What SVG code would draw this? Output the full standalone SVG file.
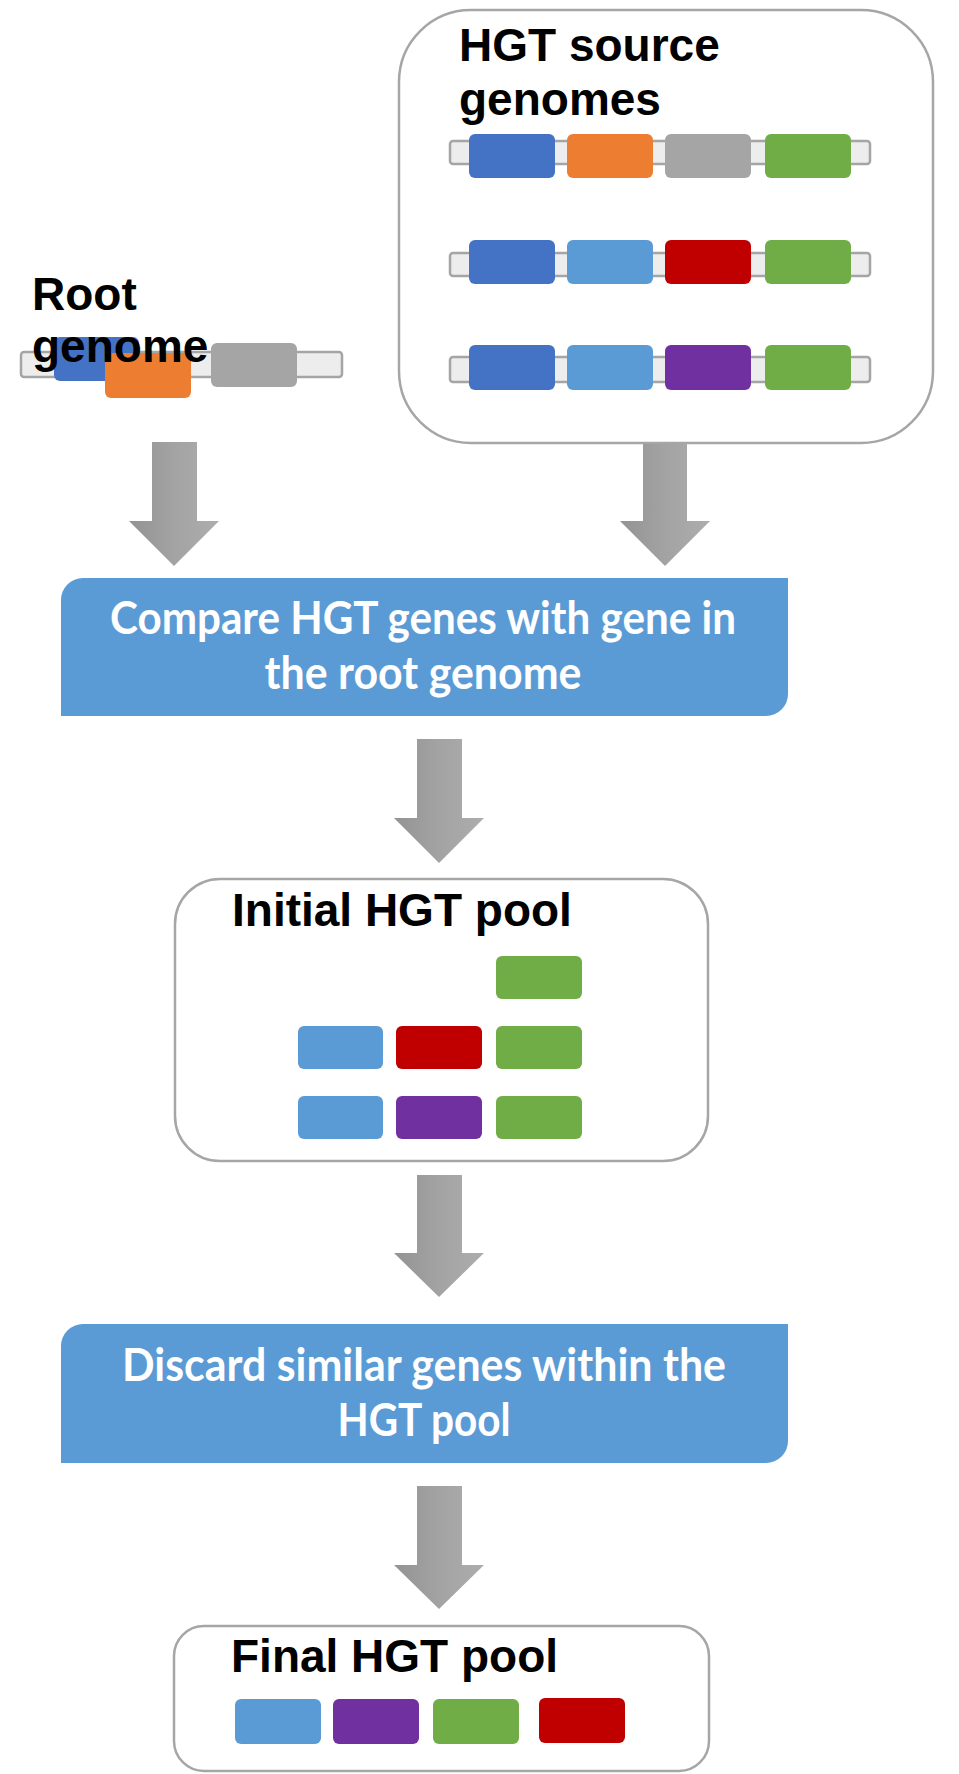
<svg xmlns="http://www.w3.org/2000/svg" width="959" height="1774" viewBox="0 0 959 1774">
<defs>
<linearGradient id="arrowGrad" x1="0" y1="0" x2="1" y2="0">
<stop offset="0" stop-color="#939393"/>
<stop offset="0.5" stop-color="#A3A3A3"/>
<stop offset="1" stop-color="#ADADAD"/>
</linearGradient>
</defs>
<style>
.frame{fill:#FFFFFF;stroke:#A6A6A6;stroke-width:2.5}
.bar{fill:#EDEDED;stroke:#A5A5A5;stroke-width:2.5}
.title{font-family:"Liberation Sans",Arial,sans-serif;font-weight:bold;font-size:46px;fill:#000000}
.step{fill:#5B9BD5}
.steptxt{font-family:Lato,"Open Sans",sans-serif;font-weight:bold;font-size:46px;fill:#FFFFFF;text-anchor:middle}
.arrow{fill:url(#arrowGrad)}
.db{fill:#4472C4}.or{fill:#ED7D31}.gy{fill:#A5A5A5}.gr{fill:#70AD47}.lb{fill:#5B9BD5}.rd{fill:#C00000}.pu{fill:#7030A0}
</style>
<rect width="959" height="1774" fill="#FFFFFF"/>

<g id="root-genome">
<rect class="bar" x="21" y="352" width="321" height="25" rx="3"/>
<rect class="db" x="54" y="337" width="85" height="44" rx="6"/>
<rect class="or" x="105" y="353" width="86" height="45" rx="6"/>
<rect class="gy" x="211" y="343" width="86" height="44" rx="6"/>
<text class="title" x="32" y="310">Root</text>
<text class="title" x="32" y="362">genome</text>
</g>

<g id="hgt-source-genomes">
<rect class="frame" x="399" y="10" width="534" height="433" rx="72"/>
<text class="title" x="459" y="61">HGT source</text>
<text class="title" x="459" y="115">genomes</text>
<rect class="bar" x="450" y="141" width="420" height="23" rx="3"/>
<rect class="db" x="469" y="134" width="86" height="44" rx="6"/>
<rect class="or" x="567" y="134" width="86" height="44" rx="6"/>
<rect class="gy" x="665" y="134" width="86" height="44" rx="6"/>
<rect class="gr" x="765" y="134" width="86" height="44" rx="6"/>
<rect class="bar" x="450" y="253" width="420" height="23" rx="3"/>
<rect class="db" x="469" y="240" width="86" height="44" rx="6"/>
<rect class="lb" x="567" y="240" width="86" height="44" rx="6"/>
<rect class="rd" x="665" y="240" width="86" height="44" rx="6"/>
<rect class="gr" x="765" y="240" width="86" height="44" rx="6"/>
<rect class="bar" x="450" y="357" width="420" height="25" rx="3"/>
<rect class="db" x="469" y="345" width="86" height="45" rx="6"/>
<rect class="lb" x="567" y="345" width="86" height="45" rx="6"/>
<rect class="pu" x="665" y="345" width="86" height="45" rx="6"/>
<rect class="gr" x="765" y="345" width="86" height="45" rx="6"/>
</g>

<g id="compare-step">
<path class="step" d="M83,578 H788 V694 A22,22 0 0 1 766,716 H61 V600 A22,22 0 0 1 83,578 Z"/>
<text class="steptxt" x="423" y="634" textLength="626" lengthAdjust="spacingAndGlyphs">Compare HGT genes with gene in</text>
<text class="steptxt" x="423" y="689" textLength="317" lengthAdjust="spacingAndGlyphs">the root genome</text>
</g>

<g id="initial-pool">
<rect class="frame" x="175" y="879" width="533" height="282" rx="45"/>
<text class="title" x="232" y="926">Initial HGT pool</text>
<rect class="gr" x="496" y="956" width="86" height="43" rx="6"/>
<rect class="lb" x="298" y="1026" width="85" height="43" rx="6"/>
<rect class="rd" x="396" y="1026" width="86" height="43" rx="6"/>
<rect class="gr" x="496" y="1026" width="86" height="43" rx="6"/>
<rect class="lb" x="298" y="1096" width="85" height="43" rx="6"/>
<rect class="pu" x="396" y="1096" width="86" height="43" rx="6"/>
<rect class="gr" x="496" y="1096" width="86" height="43" rx="6"/>
</g>

<g id="discard-step">
<path class="step" d="M83,1324 H788 V1441 A22,22 0 0 1 766,1463 H61 V1346 A22,22 0 0 1 83,1324 Z"/>
<text class="steptxt" x="424" y="1381" textLength="604" lengthAdjust="spacingAndGlyphs">Discard similar genes within the</text>
<text class="steptxt" x="424" y="1436" textLength="173" lengthAdjust="spacingAndGlyphs">HGT pool</text>
</g>

<g id="final-pool">
<rect class="frame" x="174" y="1626" width="535" height="145" rx="30"/>
<text class="title" x="231" y="1672">Final HGT pool</text>
<rect class="lb" x="235" y="1699" width="86" height="45" rx="6"/>
<rect class="pu" x="333" y="1699" width="86" height="45" rx="6"/>
<rect class="gr" x="433" y="1699" width="86" height="45" rx="6"/>
<rect class="rd" x="539" y="1698" width="86" height="45" rx="6"/>
</g>

<g id="connectors">
<path class="arrow" d="M152,442 H197 V521 H219 L174,566 L129,521 H152 Z"/>
<path class="arrow" d="M643,444 H687 V521 H710 L665,566 L620,521 H643 Z"/>
<path class="arrow" d="M417,739 H462 V818 H484 L439,863 L394,818 H417 Z"/>
<path class="arrow" d="M417,1175 H462 V1253 H484 L439,1297 L394,1253 H417 Z"/>
<path class="arrow" d="M417,1486 H462 V1565 H484 L439,1609 L394,1565 H417 Z"/>
</g>
</svg>
